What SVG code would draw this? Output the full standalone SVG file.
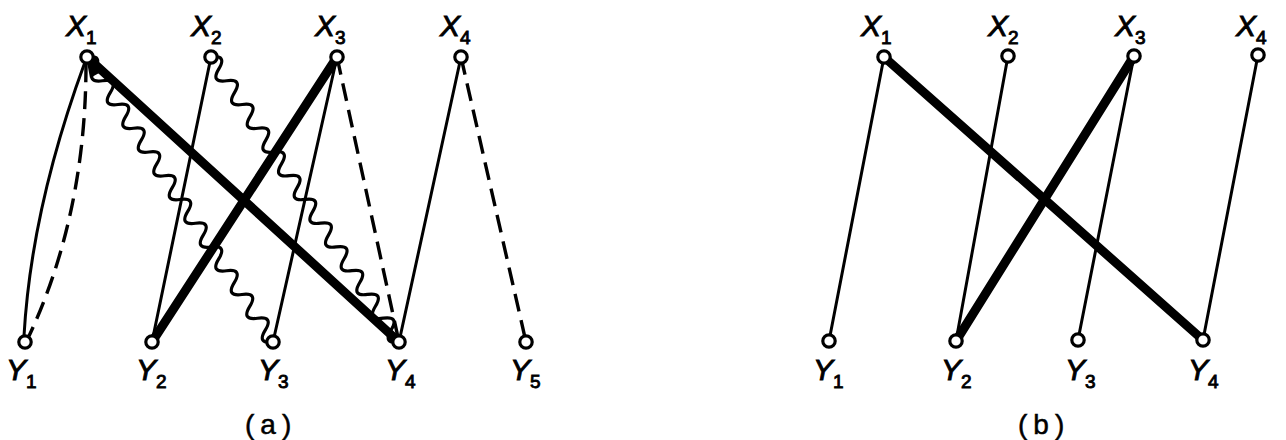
<svg xmlns="http://www.w3.org/2000/svg" width="1286" height="440" viewBox="0 0 1286 440">
<defs>
<style>
.thin{stroke:#000;stroke-width:3;fill:none;stroke-linecap:round}
.thick{stroke:#000;stroke-width:9;fill:none;stroke-linecap:round}
.dash{stroke:#000;stroke-width:3.4;fill:none;stroke-dasharray:18 9;stroke-linecap:butt}
.wave{stroke:#000;stroke-width:3.2;fill:none;stroke-linejoin:round}
.node{fill:#fff;stroke:#000;stroke-width:3.2}
.lbl{font-family:"Liberation Sans",Arial,sans-serif;font-size:30px;font-style:italic;fill:#000;stroke:#000;stroke-width:0.9}
.sub{font-size:19px;font-style:normal}
.cap{font-family:"Liberation Sans",Arial,sans-serif;font-size:28px;fill:#000;stroke:#000;stroke-width:0.5;letter-spacing:6px}
</style>
</defs>
<rect width="1286" height="440" fill="#fff"/>
<g id="connectors">
<!-- diagram (a) -->
<path class="thin" d="M85,62 C60,130 30,230 24,336"/>
<path class="dash" d="M86,64 C86,180 60,270 29,336"/>
<line class="thin" x1="211" y1="57" x2="152" y2="342"/>
<line class="thin" x1="337" y1="57" x2="273" y2="342"/>
<line class="thin" x1="461" y1="57" x2="399" y2="342"/>
<line class="dash" x1="337" y1="57" x2="399" y2="342"/>
<line class="dash" x1="461" y1="57" x2="526" y2="342"/>
<path class="wave" transform="translate(87,57) rotate(56.87)" d="M0,0 q7.09,-15 14.18,0 t14.18,0 t14.18,0 t14.18,0 t14.18,0 t14.18,0 t14.18,0 t14.18,0 t14.18,0 t14.18,0 t14.18,0 t14.18,0 t14.18,0 t14.18,0 t14.18,0 t14.18,0 t14.18,0 t14.18,0 t14.18,0 t14.18,0 t14.18,0 t14.18,0 t14.18,0 t14.18,0"/>
<path class="wave" transform="translate(211,57) rotate(56.59)" d="M0,0 q7.11,-15 14.22,0 t14.22,0 t14.22,0 t14.22,0 t14.22,0 t14.22,0 t14.22,0 t14.22,0 t14.22,0 t14.22,0 t14.22,0 t14.22,0 t14.22,0 t14.22,0 t14.22,0 t14.22,0 t14.22,0 t14.22,0 t14.22,0 t14.22,0 t14.22,0 t14.22,0 t14.22,0 t14.22,0"/>
<polygon points="87,62 101,72 90,78" fill="#000"/>
<line class="thick" x1="87" y1="57" x2="399" y2="342"/>
<line class="thick" x1="337" y1="57" x2="152" y2="342"/>
<!-- diagram (b) -->
<line class="thin" x1="884" y1="57" x2="829" y2="341"/>
<line class="thin" x1="1008" y1="56" x2="956" y2="341"/>
<line class="thin" x1="1134" y1="56" x2="1078" y2="340"/>
<line class="thin" x1="1258" y1="55" x2="1203" y2="340"/>
<line class="thick" x1="884" y1="57" x2="1203" y2="340"/>
<line class="thick" x1="1134" y1="56" x2="956" y2="341"/>
</g>
<g id="a-X1"><circle class="node" cx="87" cy="57" r="6.2"/><text class="lbl" x="66" y="36">X<tspan class="sub" dy="8">1</tspan></text></g>
<g id="a-X2"><circle class="node" cx="211" cy="57" r="6.2"/><text class="lbl" x="191" y="36">X<tspan class="sub" dy="8">2</tspan></text></g>
<g id="a-X3"><circle class="node" cx="337" cy="57" r="6.2"/><text class="lbl" x="315" y="36">X<tspan class="sub" dy="8">3</tspan></text></g>
<g id="a-X4"><circle class="node" cx="461" cy="57" r="6.2"/><text class="lbl" x="440" y="36">X<tspan class="sub" dy="8">4</tspan></text></g>
<g id="a-Y1"><circle class="node" cx="25" cy="342" r="6.2"/><text class="lbl" x="6" y="380">Y<tspan class="sub" dy="8">1</tspan></text></g>
<g id="a-Y2"><circle class="node" cx="152" cy="342" r="6.2"/><text class="lbl" x="136" y="380">Y<tspan class="sub" dy="8">2</tspan></text></g>
<g id="a-Y3"><circle class="node" cx="273" cy="342" r="6.2"/><text class="lbl" x="258" y="380">Y<tspan class="sub" dy="8">3</tspan></text></g>
<g id="a-Y4"><circle class="node" cx="399" cy="342" r="6.2"/><text class="lbl" x="385" y="380">Y<tspan class="sub" dy="8">4</tspan></text></g>
<g id="a-Y5"><circle class="node" cx="526" cy="342" r="6.2"/><text class="lbl" x="510" y="380">Y<tspan class="sub" dy="8">5</tspan></text></g>
<g id="b-X1"><circle class="node" cx="884" cy="57" r="6.2"/><text class="lbl" x="861" y="36">X<tspan class="sub" dy="8">1</tspan></text></g>
<g id="b-X2"><circle class="node" cx="1008" cy="56" r="6.2"/><text class="lbl" x="988" y="36">X<tspan class="sub" dy="8">2</tspan></text></g>
<g id="b-X3"><circle class="node" cx="1134" cy="56" r="6.2"/><text class="lbl" x="1115" y="36">X<tspan class="sub" dy="8">3</tspan></text></g>
<g id="b-X4"><circle class="node" cx="1258" cy="55" r="6.2"/><text class="lbl" x="1236" y="36">X<tspan class="sub" dy="8">4</tspan></text></g>
<g id="b-Y1"><circle class="node" cx="829" cy="341" r="6.2"/><text class="lbl" x="813" y="380">Y<tspan class="sub" dy="8">1</tspan></text></g>
<g id="b-Y2"><circle class="node" cx="956" cy="341" r="6.2"/><text class="lbl" x="941" y="380">Y<tspan class="sub" dy="8">2</tspan></text></g>
<g id="b-Y3"><circle class="node" cx="1078" cy="340" r="6.2"/><text class="lbl" x="1065" y="380">Y<tspan class="sub" dy="8">3</tspan></text></g>
<g id="b-Y4"><circle class="node" cx="1203" cy="340" r="6.2"/><text class="lbl" x="1188" y="380">Y<tspan class="sub" dy="8">4</tspan></text></g>
<g id="captions">
<text class="cap" x="245" y="434">(a)</text>
<text class="cap" x="1018" y="434">(b)</text>
</g>
</svg>
